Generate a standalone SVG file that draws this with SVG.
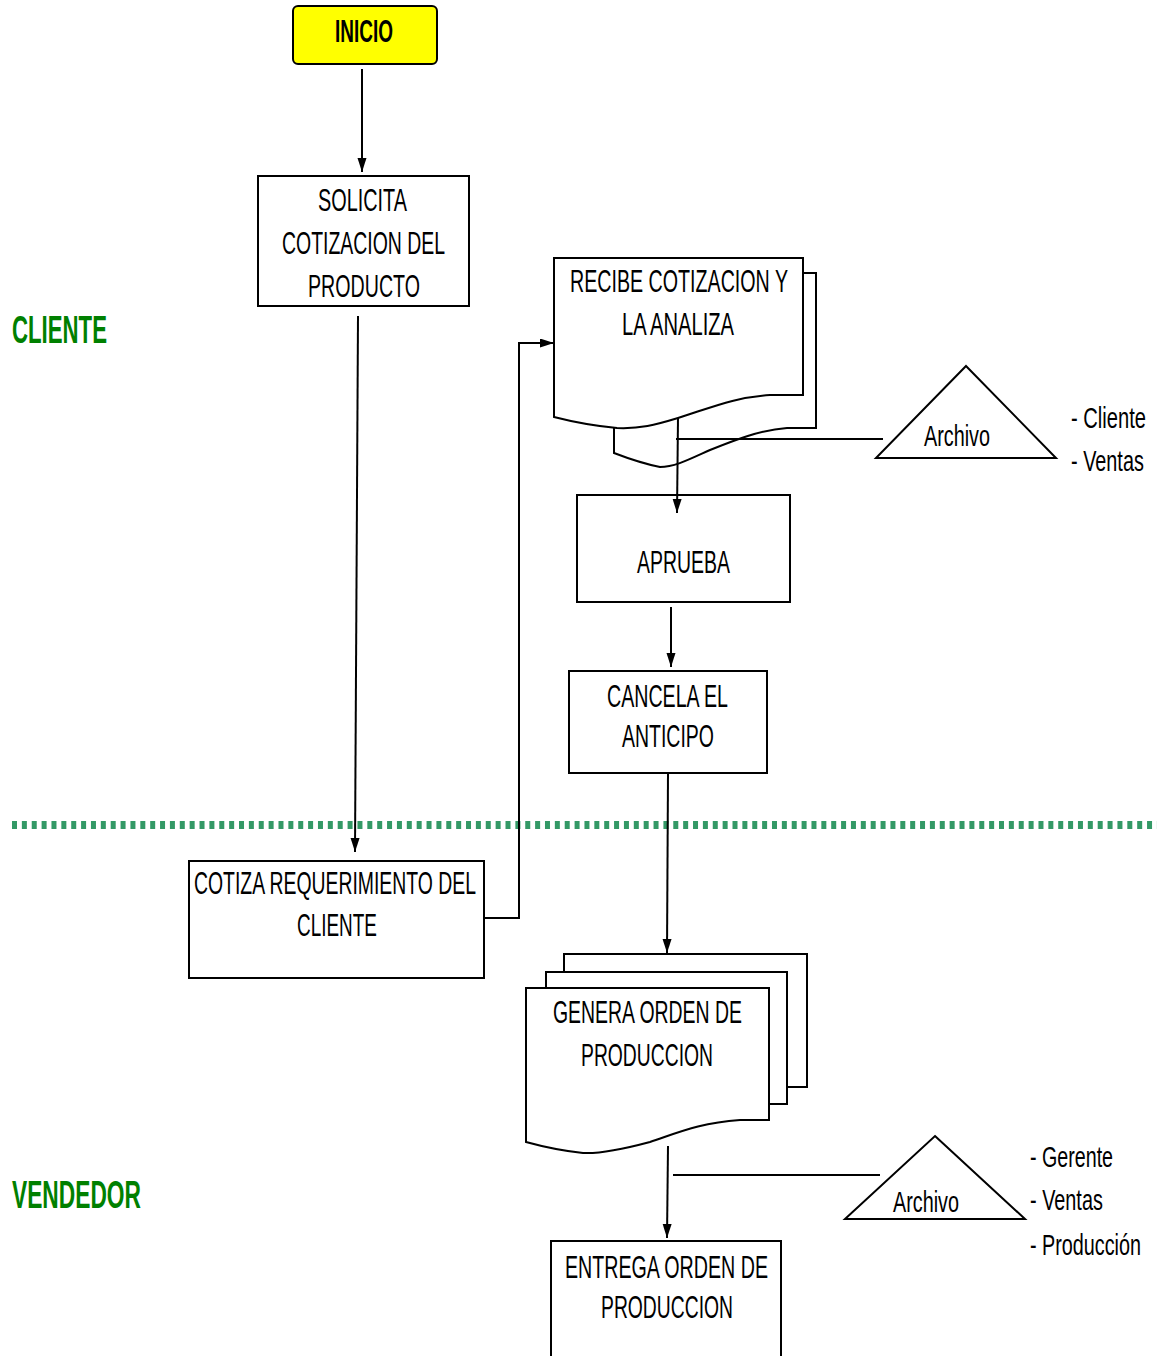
<svg xmlns="http://www.w3.org/2000/svg" width="1157" height="1356" viewBox="0 0 1157 1356">
<style>
  .box { fill: #ffffff; stroke: #000000; stroke-width: 2; }
  .conn { fill: none; stroke: #000000; stroke-width: 2; }
  .t { font-family: "Liberation Sans", Arial, sans-serif; font-size: 32px; fill: #000000; }
  .ts { font-family: "Liberation Sans", Arial, sans-serif; font-size: 29px; fill: #000000; }
  .lane { font-family: "Liberation Sans", Arial, sans-serif; font-size: 38px; font-weight: bold; fill: #008000; }
</style>
<defs>
  <marker id="arrow" markerUnits="userSpaceOnUse" markerWidth="15" markerHeight="10" refX="14" refY="4.5" orient="auto">
    <path d="M0,0 L14,4.5 L0,9 Z" fill="#000000"/>
  </marker>
</defs>
<rect width="1157" height="1356" fill="#ffffff"/>

<g id="lanes">
  <text class="lane" x="12" y="343" textLength="95" lengthAdjust="spacingAndGlyphs">CLIENTE</text>
  <text class="lane" x="12" y="1208" textLength="129" lengthAdjust="spacingAndGlyphs">VENDEDOR</text>
  <line x1="12" y1="825" x2="1157" y2="825" stroke="#339966" stroke-width="8" stroke-dasharray="5 4.87"/>
</g>

<g id="inicio">
  <rect x="293" y="6" width="144" height="58" rx="5" ry="5" fill="#ffff00" stroke="#000000" stroke-width="2"/>
  <text class="t" x="335" y="42" font-weight="bold" font-size="33" textLength="58" lengthAdjust="spacingAndGlyphs">INICIO</text>
</g>

<g id="solicita">
  <rect class="box" x="258" y="176" width="211" height="130"/>
  <text class="t" x="318" y="211" textLength="89" lengthAdjust="spacingAndGlyphs">SOLICITA</text>
  <text class="t" x="282" y="254" textLength="163" lengthAdjust="spacingAndGlyphs">COTIZACION DEL</text>
  <text class="t" x="308" y="297" textLength="112" lengthAdjust="spacingAndGlyphs">PRODUCTO</text>
</g>

<g id="recibe">
  <path class="box" d="M614,273 H816 V428 H787 C760,430 735,440 710,450 C690,459 675,467 660,467 Q640,463 614,453 Z"/>
  <path class="box" d="M554,258 H803 V395 H770 C735,397 710,408 678,418 C655,425 640,429 617,428 Q585,425 554,417 Z"/>
  <text class="t" x="570" y="292" textLength="218" lengthAdjust="spacingAndGlyphs">RECIBE COTIZACION Y</text>
  <text class="t" x="622" y="335" textLength="112" lengthAdjust="spacingAndGlyphs">LA ANALIZA</text>
</g>

<g id="archivo1">
  <path class="box" d="M966,366 L1056,458 L876,458 Z" fill="none"/>
  <text class="ts" x="924" y="446" textLength="66" lengthAdjust="spacingAndGlyphs">Archivo</text>
  <text class="ts" transform="translate(1071,428) scale(0.695,1)">- Cliente</text>
  <text class="ts" transform="translate(1071,471) scale(0.685,1)">- Ventas</text>
</g>

<g id="aprueba">
  <rect class="box" x="577" y="495" width="213" height="107"/>
  <text class="t" x="637" y="573" textLength="93" lengthAdjust="spacingAndGlyphs">APRUEBA</text>
</g>

<g id="cancela">
  <rect class="box" x="569" y="671" width="198" height="102"/>
  <text class="t" x="607" y="707" textLength="121" lengthAdjust="spacingAndGlyphs">CANCELA EL</text>
  <text class="t" x="622" y="747" textLength="92" lengthAdjust="spacingAndGlyphs">ANTICIPO</text>
</g>

<g id="cotiza">
  <rect class="box" x="189" y="861" width="295" height="117"/>
  <text class="t" x="194" y="894" textLength="282" lengthAdjust="spacingAndGlyphs">COTIZA REQUERIMIENTO DEL</text>
  <text class="t" x="297" y="936" textLength="80" lengthAdjust="spacingAndGlyphs">CLIENTE</text>
</g>

<g id="genera">
  <rect class="box" x="564" y="954" width="243" height="133"/>
  <rect class="box" x="546" y="972" width="241" height="132"/>
  <path class="box" d="M526,988 H769 V1120 H740 C700,1123 680,1132 650,1142 C620,1150 600,1154 583,1153 Q555,1150 526,1142 Z"/>
  <text class="t" x="553" y="1023" textLength="189" lengthAdjust="spacingAndGlyphs">GENERA ORDEN DE</text>
  <text class="t" x="581" y="1066" textLength="132" lengthAdjust="spacingAndGlyphs">PRODUCCION</text>
</g>

<g id="archivo2">
  <path class="box" d="M935,1136 L1025,1219 L845,1219 Z" fill="none"/>
  <text class="ts" x="893" y="1212" textLength="66" lengthAdjust="spacingAndGlyphs">Archivo</text>
  <text class="ts" transform="translate(1030,1167) scale(0.678,1)">- Gerente</text>
  <text class="ts" transform="translate(1030,1210) scale(0.685,1)">- Ventas</text>
  <text class="ts" transform="translate(1030,1255) scale(0.682,1)">- Producción</text>
</g>

<g id="entrega">
  <rect class="box" x="551" y="1241" width="230" height="130"/>
  <text class="t" x="565" y="1278" textLength="203" lengthAdjust="spacingAndGlyphs">ENTREGA ORDEN DE</text>
  <text class="t" x="601" y="1318" textLength="132" lengthAdjust="spacingAndGlyphs">PRODUCCION</text>
</g>

<g id="connectors">
  <path class="conn" d="M362,69 L362,172" marker-end="url(#arrow)"/>
  <path class="conn" d="M358,316 L355,852" marker-end="url(#arrow)"/>
  <path class="conn" d="M485,918 L519,918 L519,343 L554,343" marker-end="url(#arrow)"/>
  <path class="conn" d="M678,418 L677,513" marker-end="url(#arrow)"/>
  <path class="conn" d="M676,439 L883,439"/>
  <path class="conn" d="M671,607 L671,667" marker-end="url(#arrow)"/>
  <path class="conn" d="M668,773 L667,953" marker-end="url(#arrow)"/>
  <path class="conn" d="M668,1146 L667,1238" marker-end="url(#arrow)"/>
  <path class="conn" d="M673,1175 L880,1175"/>
</g>
</svg>
